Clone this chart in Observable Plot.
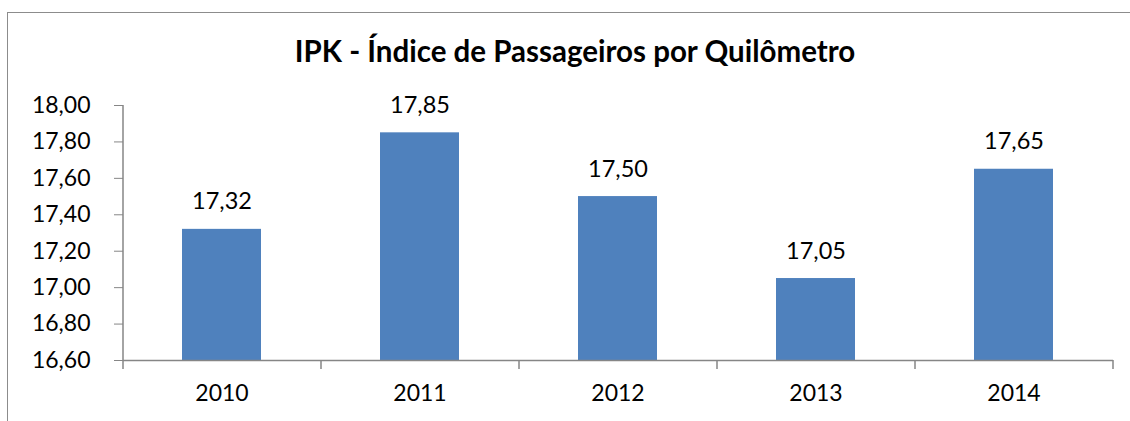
<!DOCTYPE html>
<html>
<head>
<meta charset="utf-8">
<script src="https://cdn.jsdelivr.net/npm/d3@7"></script>
<script src="https://cdn.jsdelivr.net/npm/@observablehq/plot@0.6"></script>
<style>
  html, body { margin: 0; padding: 0; background: #fff; }
  #wrap { position: relative; width: 1130px; height: 421px; overflow: hidden; font-family: Lato, "Open Sans", sans-serif; }
  #border { position: absolute; left: 7px; top: 12px; width: 1200px; height: 500px; border-top: 1px solid #8c8c8c; border-left: 1px solid #8c8c8c; }
  #title { position: absolute; left: 0; top: 0; width: 1150px; height: 80px; text-align: center; font-weight: bold; font-size: 29.5px; line-height: 30px; padding-top: 36px; box-sizing: border-box; color: #000; }
  #chart { position: absolute; left: 0; top: 80px; }
</style>
</head>
<body>
<div id="wrap">
  <div id="border"></div>
  <div id="title">IPK - Índice de Passageiros por Quilômetro</div>
  <div id="chart"></div>
</div>
<script>
const years = ["2010", "2011", "2012", "2013", "2014"];
const values = [17.32, 17.85, 17.50, 17.05, 17.65];
const yTicks = [16.6, 16.8, 17.0, 17.2, 17.4, 17.6, 17.8, 18.0];
const yBase = 16.6;
const yTop = 18.0;

const data = years.map((year, i) => ({year, value: values[i]}));
const fmt = d => d.toFixed(2).replace(".", ",");
const halfStep = 99;

const chart = Plot.plot({
  width: 1130,
  height: 341,
  marginTop: 25,
  marginBottom: 61,
  marginLeft: 123,
  marginRight: 17,
  style: {fontFamily: "Lato, 'Open Sans', sans-serif", fontSize: "23px", color: "#000", background: "transparent"},
  x: {domain: years, paddingInner: 0.6, paddingOuter: 0.3, label: null},
  y: {domain: [yBase, yTop], label: null},
  marks: [
    Plot.barY(data, {x: "year", y1: d => yBase, y2: "value", fill: "#4F81BD"}),
    Plot.ruleY([yBase], {stroke: "#868686", strokeWidth: 1.5}),
    Plot.ruleX([years[0]], {x: d => d, y1: d => yBase, y2: d => yTop, dx: -halfStep, stroke: "#868686", strokeWidth: 1.5}),
    Plot.ruleX(years, {x: d => d, y1: d => yBase, y2: d => yBase, insetBottom: -9, dx: -halfStep, stroke: "#868686", strokeWidth: 1.5}),
    Plot.ruleX([years[years.length - 1]], {x: d => d, y1: d => yBase, y2: d => yBase, insetBottom: -9, dx: halfStep, stroke: "#868686", strokeWidth: 1.5}),
    Plot.axisY({ticks: yTicks, tickSize: 9, tickPadding: 24, tickFormat: fmt, stroke: "#868686", fill: "#000", fontSize: 23}),
    Plot.axisX({tickSize: 0, tickPadding: 24, fill: "#000", fontSize: 23}),
    Plot.text(data, {x: "year", y: "value", text: d => fmt(d.value), lineAnchor: "bottom", dy: -20, fill: "#000", fontSize: 23.5})
  ]
});
document.getElementById("chart").appendChild(chart);
</script>
</body>
</html>
